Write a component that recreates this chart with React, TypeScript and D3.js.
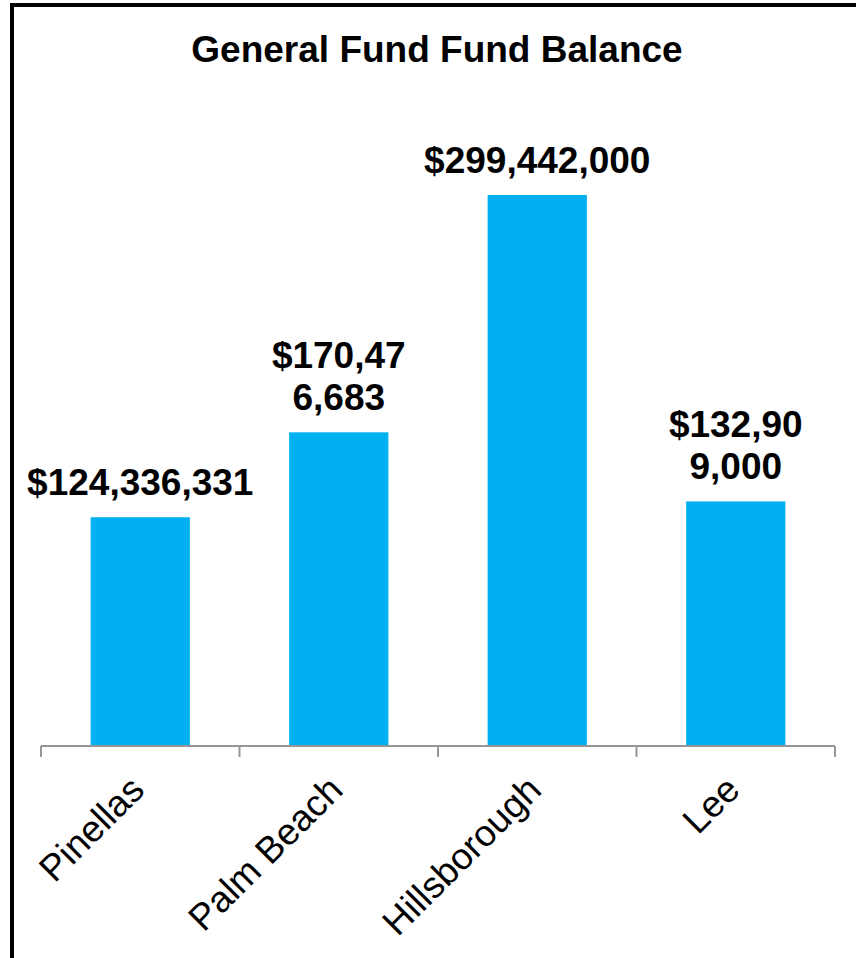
// Libraries
import { useEffect, useRef } from 'react';
import * as d3 from 'd3';

const width = 856;
const height = 958;
const fontFamily = '"Liberation Sans", Arial, sans-serif';

// Chart data
const counties = ['Pinellas', 'Palm Beach', 'Hillsborough', 'Lee'];
const fundBalance = [124336331, 170476683, 299442000, 132909000];
// where the data label wraps onto a second line (character index), 0 = no wrap
const labelBreaks = [0, 7, 0, 7];
const yMax = 350000000;

const chartTitle = 'General Fund Fund Balance';
const barColor = '#00B0F0';
const axisColor = '#969696';

const margin = { top: 102, left: 41, right: 21, bottom: 212 };

function drawChart(node: SVGSVGElement) {
  const svg = d3.select(node);
  svg.selectAll('*').remove();

  const x = d3.scaleBand()
    .domain(counties)
    .range([margin.left, width - margin.right])
    .paddingInner(0.5)
    .paddingOuter(0.25);

  const y = d3.scaleLinear()
    .domain([0, yMax])
    .range([height - margin.bottom, margin.top]);

  const data = counties.map((c, i) => ({ county: c, value: fundBalance[i], brk: labelBreaks[i] }));
  const fmt = d3.format('$,');

  // chart border (right and bottom edges fall off the picture)
  svg.append('rect')
    .attr('x', 12)
    .attr('y', 5)
    .attr('width', width + 20)
    .attr('height', height + 20)
    .attr('fill', 'white')
    .attr('stroke', 'black')
    .attr('stroke-width', 4);

  svg.append('text')
    .attr('x', 437)
    .attr('y', 62)
    .attr('text-anchor', 'middle')
    .attr('font-family', fontFamily)
    .attr('font-weight', 'bold')
    .attr('font-size', 37)
    .text(chartTitle);

  svg.selectAll('rect.bar')
    .data(data)
    .join('rect')
    .attr('class', 'bar')
    .attr('x', d => x(d.county)!)
    .attr('width', x.bandwidth())
    .attr('y', d => y(d.value))
    .attr('height', d => y(0) - y(d.value))
    .attr('fill', barColor);

  // data labels
  const labels = svg.selectAll('text.value')
    .data(data)
    .join('text')
    .attr('class', 'value')
    .attr('text-anchor', 'middle')
    .attr('font-family', fontFamily)
    .attr('font-weight', 'bold')
    .attr('font-size', 37)
    .attr('fill', 'black');

  labels.each(function (d) {
    const s = fmt(d.value);
    const lines = d.brk ? [s.slice(0, d.brk), s.slice(d.brk)] : [s];
    const cx = x(d.county)! + x.bandwidth() / 2;
    const baseY = y(d.value) - 22 - (lines.length - 1) * 42;
    d3.select(this)
      .selectAll('tspan')
      .data(lines)
      .join('tspan')
      .attr('x', cx)
      .attr('y', (l, i) => baseY + i * 42)
      .text(l => l);
  });

  // category axis
  const axisY = y(0);
  const step = x.step();
  const bounds = d3.range(counties.length + 1).map(i => margin.left + i * step);

  svg.append('line')
    .attr('x1', margin.left)
    .attr('x2', width - margin.right)
    .attr('y1', axisY)
    .attr('y2', axisY)
    .attr('stroke', axisColor)
    .attr('stroke-width', 2);

  svg.selectAll('line.tick')
    .data(bounds)
    .join('line')
    .attr('class', 'tick')
    .attr('x1', d => d)
    .attr('x2', d => d)
    .attr('y1', axisY)
    .attr('y2', axisY + 11)
    .attr('stroke', axisColor)
    .attr('stroke-width', 2);

  svg.selectAll('text.cat')
    .data(counties)
    .join('text')
    .attr('class', 'cat')
    .attr('text-anchor', 'end')
    .attr('font-family', fontFamily)
    .attr('font-size', 37)
    .attr('transform', d => 'translate(' + (x(d)! + x.bandwidth() / 2 + 6) + ', ' + (axisY + 46) + ') rotate(-45)')
    .text(d => d);
}

export default function App() {
  const ref = useRef<SVGSVGElement>(null);

  useEffect(() => {
    if (ref.current) drawChart(ref.current);
  }, []);

  return (
    <svg
      ref={ref}
      width={width}
      height={height}
      style={{ position: 'absolute', left: 0, top: 0, background: 'white' }}
    />
  );
}
